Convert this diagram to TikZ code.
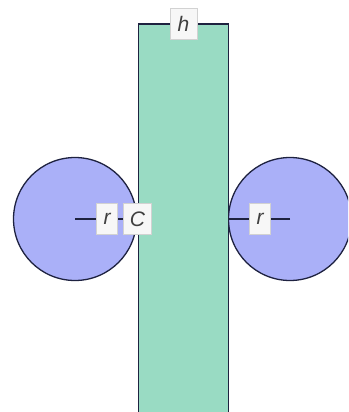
\documentclass[tikz,border=0pt]{standalone}
\usepackage{fontspec}
\setmainfont{Liberation Sans}
\definecolor{mint}{HTML}{99DBC3}
\definecolor{lav}{HTML}{AAB0F8}
\definecolor{edge}{HTML}{1E2240}
\begin{document}
\begin{tikzpicture}[x=1pt,y=-1pt,
  outl/.style={draw=edge, line width=1.3pt},
  disc/.style={outl, circle, fill=lav, minimum size=123pt, inner sep=0pt},
  slab/.style={outl, fill=mint},
  lbl/.style={fill=gray!6, draw=gray!35, line width=0.6pt, inner sep=2pt, minimum height=31pt, minimum width=21pt, font=\fontsize{21}{21}\selectfont\itshape, text=black!75},
  radius line/.style={draw=edge, line width=1.3pt}]
\useasboundingbox (0,0) rectangle (348,412);
\clip (0,0) rectangle (348,412);
\node[disc] (c1) at (75,219) {};
\node[disc] (c2) at (290,219) {};
\path[slab] (138.5,24) rectangle (228.5,430);
\coordinate (top) at (183.5,24);
\draw[radius line] (c1.center) -- (c1.east);
\draw[radius line] (c2.center) -- (c2.west);
\node[lbl] (r1) at (107,219) {r};
\node[lbl, minimum width=28pt] (cc) at (137.5,219) {C};
\node[lbl] (r2) at (260,219) {r};
\node[lbl, minimum width=27pt] (h) at (top) {h};
\end{tikzpicture}
\end{document}
